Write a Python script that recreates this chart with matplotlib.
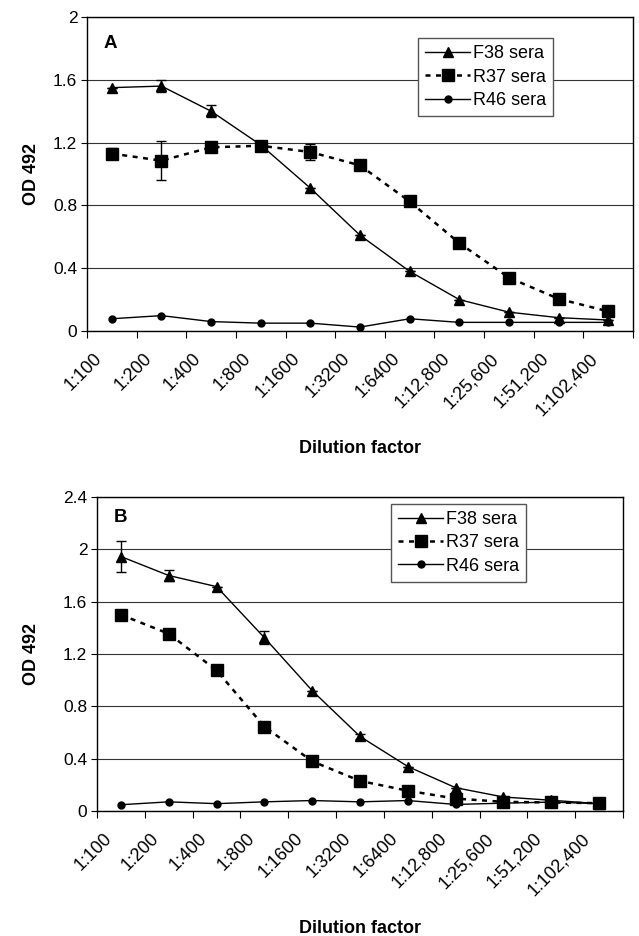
import numpy as np
import matplotlib
matplotlib.use("Agg")
import matplotlib.pyplot as plt
from matplotlib.lines import Line2D

plt.rcParams['font.family'] = ['Liberation Sans', 'DejaVu Sans']

# dilution categories
dilutions = ["1:100", "1:200", "1:400", "1:800", "1:1600", "1:3200", "1:6400",
             "1:12,800", "1:25,600", "1:51,200", "1:102,400"]

# panel A
a_f38 = [1.55, 1.56, 1.40, 1.185, 0.91, 0.61, 0.38, 0.20, 0.12, 0.085, 0.07]
a_f38_err = [0, 0.04, 0.04, 0, 0, 0, 0, 0, 0, 0, 0]
a_r37 = [1.13, 1.085, 1.17, 1.18, 1.14, 1.055, 0.825, 0.56, 0.34, 0.205, 0.125]
a_r37_err = [0.035, 0.125, 0, 0, 0.05, 0, 0.03, 0, 0, 0, 0]
a_r46 = [0.078, 0.098, 0.06, 0.05, 0.05, 0.025, 0.078, 0.055, 0.055, 0.055, 0.055]

# panel B
b_f38 = [1.945, 1.80, 1.715, 1.325, 0.92, 0.57, 0.34, 0.178, 0.107, 0.082, 0.056]
b_f38_err = [0.115, 0.04, 0, 0.05, 0, 0.02, 0, 0, 0, 0, 0]
b_r37 = [1.50, 1.355, 1.075, 0.645, 0.38, 0.23, 0.155, 0.095, 0.07, 0.065, 0.06]
b_r37_err = [0] * 11
b_r46 = [0.048, 0.07, 0.056, 0.07, 0.08, 0.07, 0.08, 0.05, 0.06, 0.068, 0.056]

W, H = 639, 936
fig = plt.figure(figsize=(W / 100, H / 100), dpi=100)

F38_STYLE = dict(color='black', lw=1.0, marker='^', ms=7.5)
R37_STYLE = dict(color='black', lw=1.8, ls=(0, (2.0, 2.2)), marker='s', ms=8)
R46_STYLE = dict(color='black', lw=1.0, marker='o', ms=5)


def draw_panel(rect, letter, f38, f38_err, r37, r37_err, r46, ymax, leg_box, letter_xy):
    ax = fig.add_axes(rect)
    x = np.arange(len(dilutions))
    ax.errorbar(x, f38, yerr=f38_err, capsize=3.5, elinewidth=1.0, capthick=1.0,
                zorder=3, **F38_STYLE)
    ax.errorbar(x, r37, yerr=r37_err, capsize=3.5, elinewidth=1.0, capthick=1.0,
                zorder=3, **R37_STYLE)
    ax.plot(x, r46, zorder=3, **R46_STYLE)

    ax.set_xlim(-0.5, len(dilutions) - 0.5)
    ax.set_ylim(0, ymax)
    yt = np.arange(0, ymax + 0.01, 0.4)
    ax.set_yticks(yt)
    ax.set_yticklabels([f"{v:g}" for v in yt], fontsize=12.5)
    ax.yaxis.grid(True, color='#333333', lw=0.8)
    ax.set_axisbelow(True)

    # labels sit a little left of the category centre, like the Excel original
    ax.set_xticks(x - 0.25)
    ax.set_xticklabels(dilutions, rotation=45, ha='right', va='center',
                       rotation_mode='anchor', fontsize=13)
    ax.set_xticks(np.arange(-0.5, len(dilutions)), minor=True)
    ax.tick_params(axis='x', which='major', length=0, pad=18)
    ax.tick_params(axis='x', which='minor', length=5, direction='out', width=0.8)
    ax.tick_params(axis='y', length=4, direction='out', width=0.8, pad=3)
    for s in ax.spines.values():
        s.set_linewidth(1.0)

    ax.set_ylabel('OD 492', fontsize=13, fontweight='bold', va='center')
    ax.set_xlabel('Dilution factor', fontsize=13, fontweight='bold', va='center')
    ax.xaxis.set_label_coords(0.5, -0.373)
    ax.yaxis.set_label_coords((31 - rect[0] * W) / (rect[2] * W), 0.5)
    ax.text(letter_xy[0], letter_xy[1], letter, transform=ax.transAxes, fontsize=13.5,
            fontweight='bold', va='center', ha='center')

    handles = [Line2D([], [], **F38_STYLE), Line2D([], [], **R37_STYLE),
               Line2D([], [], **R46_STYLE)]
    leg = ax.legend(handles, ['F38 sera', 'R37 sera', 'R46 sera'], loc='upper left',
                    bbox_to_anchor=leg_box, fontsize=13, frameon=True,
                    fancybox=False, edgecolor='#555555', handlelength=2.5,
                    handletextpad=0.15, borderpad=0.4, labelspacing=0.35,
                    borderaxespad=0, framealpha=1)
    leg.get_frame().set_linewidth(1.0)
    return ax


draw_panel([87 / W, 1 - 331 / H, 546 / W, 314 / H], 'A',
           a_f38, a_f38_err, a_r37, a_r37_err, a_r46, 2.0,
           (0.606, 0.933), (0.042, 0.917))
draw_panel([97 / W, 1 - 811 / H, 526 / W, 314 / H], 'B',
           b_f38, b_f38_err, b_r37, b_r37_err, b_r46, 2.4,
           (0.559, 0.978), (0.044, 0.936))

fig.savefig('out.png', dpi=100)
